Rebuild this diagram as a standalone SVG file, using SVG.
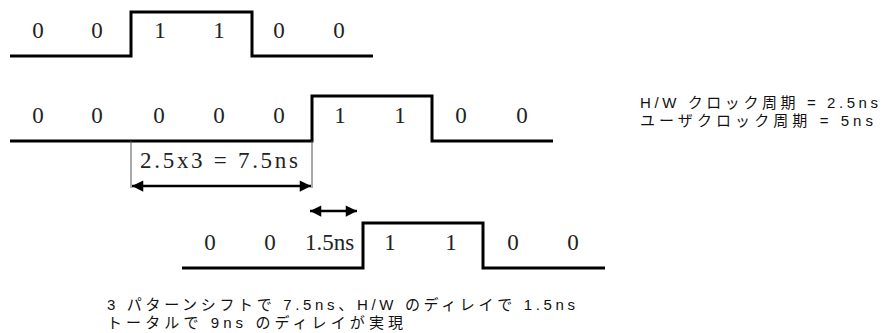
<svg xmlns="http://www.w3.org/2000/svg" width="882" height="333" viewBox="0 0 882 333">
<style>
.wave{fill:none;stroke:#000;stroke-width:3;stroke-linejoin:miter}
.bit{font-family:"Liberation Serif",serif;font-size:23px;fill:#222;text-anchor:middle}
.lbl{font-family:"Liberation Serif",serif;font-size:23px;fill:#222}
.note{font-family:"Liberation Sans","Noto Sans CJK JP",sans-serif;font-size:15px;fill:#111}
.tick{stroke:#555;stroke-width:1}
.arr{stroke:#000;stroke-width:2.5;fill:none}
</style>
<defs>
<marker id="ah" viewBox="0 0 10 10" refX="10" refY="5" markerWidth="6" markerHeight="4.5" orient="auto-start-reverse" markerUnits="strokeWidth">
<path d="M0,0 L10,5 L0,10 z" fill="#000"/>
</marker>
</defs>
<rect width="882" height="333" fill="#fff"/>
<g id="wave1">
<path class="wave" d="M10,56 H131 V12 H252 V56 H373"/>
<text class="bit" x="38" y="38">0</text>
<text class="bit" x="97" y="38">0</text>
<text class="bit" x="160" y="38">1</text>
<text class="bit" x="219" y="38">1</text>
<text class="bit" x="279" y="38">0</text>
<text class="bit" x="339" y="38">0</text>
</g>
<g id="wave2">
<path class="wave" d="M10,141 H312 V96 H432 V141 H553"/>
<text class="bit" x="38" y="123">0</text>
<text class="bit" x="97" y="123">0</text>
<text class="bit" x="159" y="123">0</text>
<text class="bit" x="219" y="123">0</text>
<text class="bit" x="279" y="123">0</text>
<text class="bit" x="340" y="123">1</text>
<text class="bit" x="400" y="123">1</text>
<text class="bit" x="461" y="123">0</text>
<text class="bit" x="522" y="123">0</text>
</g>
<g id="wave3">
<path class="wave" d="M182,268 H363 V223 H483 V268 H605"/>
<text class="bit" x="210" y="250">0</text>
<text class="bit" x="270" y="250">0</text>
<text class="lbl" x="305" y="250">1.5ns</text>
<text class="bit" x="390" y="250">1</text>
<text class="bit" x="451" y="250">1</text>
<text class="bit" x="513" y="250">0</text>
<text class="bit" x="573" y="250">0</text>
</g>
<g id="shift-label">
<text class="lbl" x="140" y="168" textLength="158" lengthAdjust="spacing">2.5x3 = 7.5ns</text>
</g>
<g id="connectors">
<line class="tick" x1="131" y1="141" x2="131" y2="188"/>
<line class="tick" x1="312" y1="141" x2="312" y2="188"/>
<line class="arr" x1="132" y1="186" x2="311" y2="186" marker-start="url(#ah)" marker-end="url(#ah)"/>
<line class="arr" x1="310" y1="211" x2="357" y2="211" marker-start="url(#ah)" marker-end="url(#ah)"/>
</g>
<g id="clock-note">
<text class="note" x="640" y="108" textLength="238" lengthAdjust="spacing">H/W クロック周期 = 2.5ns</text>
<text class="note" x="640" y="126" textLength="233" lengthAdjust="spacing">ユーザクロック周期 = 5ns</text>
</g>
<g id="summary-note">
<text class="note" x="107" y="310" textLength="468" lengthAdjust="spacing">3 パターンシフトで 7.5ns、H/W のディレイで 1.5ns</text>
<text class="note" x="107" y="328" textLength="296" lengthAdjust="spacing">トータルで 9ns のディレイが実現</text>
</g>
</svg>
